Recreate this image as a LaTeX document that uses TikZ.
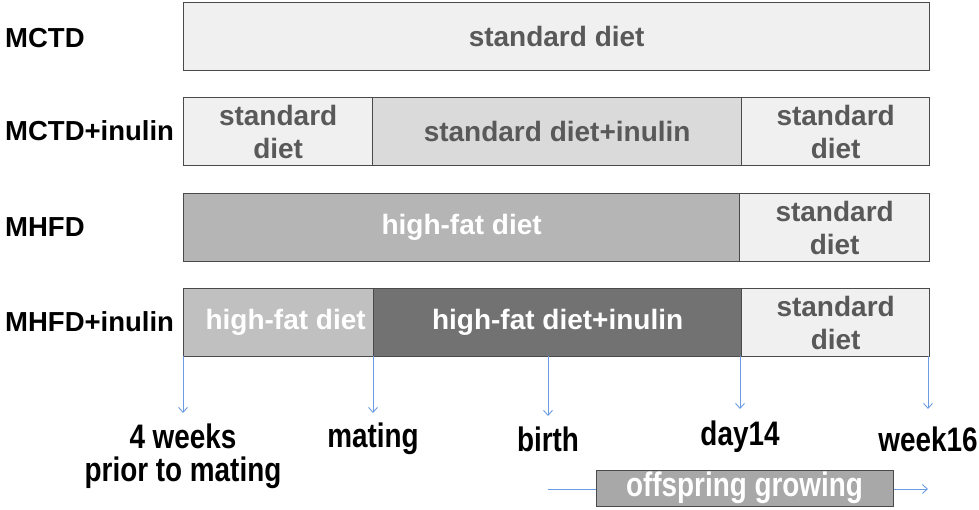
\documentclass[tikz,border=0pt]{standalone}
\usepackage{fontspec}
\setmainfont{Liberation Sans}
\newfontfamily\narrowfont{Liberation Sans}[FakeStretch=0.82]
\usetikzlibrary{arrows.meta}
\definecolor{boxline}{HTML}{4A4A4A}
\definecolor{txtgray}{HTML}{595959}
\definecolor{fillA}{HTML}{F0F0F0}
\definecolor{fillB}{HTML}{DADADA}
\definecolor{fillC}{HTML}{B5B5B5}
\definecolor{fillD}{HTML}{C0C0C0}
\definecolor{fillE}{HTML}{727272}
\definecolor{fillF}{HTML}{A8A8A8}
\definecolor{arrowblue}{HTML}{6A9BE3}
\tikzset{
  seg/.style={draw=boxline, line width=1.3pt, anchor=north west, minimum height=68pt,
    inner sep=0pt, align=center, font=\bfseries\fontsize{28}{33}\selectfont, text=txtgray},
  wtxt/.style={text=white},
  grp/.style={anchor=west, font=\bfseries\fontsize{27.5}{30}\selectfont, text=black, inner sep=0pt},
  tl/.style={align=center, font=\narrowfont\bfseries\fontsize{34}{34}\selectfont, text=black, inner sep=0pt},
  tarrow/.style={draw=arrowblue, line width=0.9pt, -{Straight Barb[length=5pt,width=9pt]}}
}
\begin{document}
\begin{tikzpicture}[x=1pt,y=-1pt]
\useasboundingbox (0,0) rectangle (979,510);
% group labels
\node[grp] (g1) at (5,38) {MCTD};
\node[grp] (g2) at (5,131) {MCTD+inulin};
\node[grp] (g3) at (5,227) {MHFD};
\node[grp] (g4) at (5,322) {MHFD+inulin};
% row 1
\node[seg, fill=fillA, minimum width=746pt] (r1) at (183,2) {standard diet};
% row 2
\node[seg, fill=fillA, minimum width=189pt] (r2a) at (183,97) {standard\\diet};
\node[seg, fill=fillB, minimum width=369pt] (r2b) at (372,97) {standard diet+inulin};
\node[seg, fill=fillA, minimum width=188pt] (r2c) at (741,97) {standard\\diet};
% row 3
\node[seg, fill=fillC, wtxt, minimum width=556pt] (r3a) at (183,193) {high-fat diet};
\node[seg, fill=fillA, minimum width=190pt] (r3b) at (739,193) {standard\\diet};
% row 4
\node[seg, fill=fillD, wtxt, minimum width=190pt] (r4a) at (183,288) {\hspace*{14pt}high-fat diet};
\node[seg, fill=fillE, wtxt, minimum width=368pt] (r4b) at (373,288) {high-fat diet+inulin};
\node[seg, fill=fillA, minimum width=188pt] (r4c) at (741,288) {standard\\diet};
% arrow end points
\coordinate (e1) at (183,413);
\coordinate (e2) at (373,413);
\coordinate (e3) at (548,416);
\coordinate (e4) at (740,409);
\coordinate (e5) at (928,409);
\coordinate (s1) at (183,356);
\coordinate (s2) at (373,356);
\coordinate (s3) at (548,356);
\coordinate (s4) at (740,356);
\coordinate (s5) at (928,356);
\foreach \i in {1,...,5} { \draw[tarrow] (s\i) -- (e\i); }
% timeline labels
\node[tl] (t1) at (183,456) {4 weeks\\[-1pt]prior to mating};
\node[tl] (t2) at (373,439) {mating};
\node[tl] (t3) at (548,439) {birth};
\node[tl] (t4) at (740,437) {day14};
\node[tl] (t5) at (928,439) {week16};
% offspring growing
\coordinate (o1) at (548,489);
\coordinate (o2) at (928,489);
\draw[tarrow] (o1) -- (o2);
\node[draw=boxline, line width=1pt, fill=fillF, minimum width=297pt, minimum height=36pt, inner sep=0pt,
  text=white, font=\narrowfont\bfseries\fontsize{34}{34}\selectfont] (og) at (744.5,488) {offspring growing};
\end{tikzpicture}
\end{document}
